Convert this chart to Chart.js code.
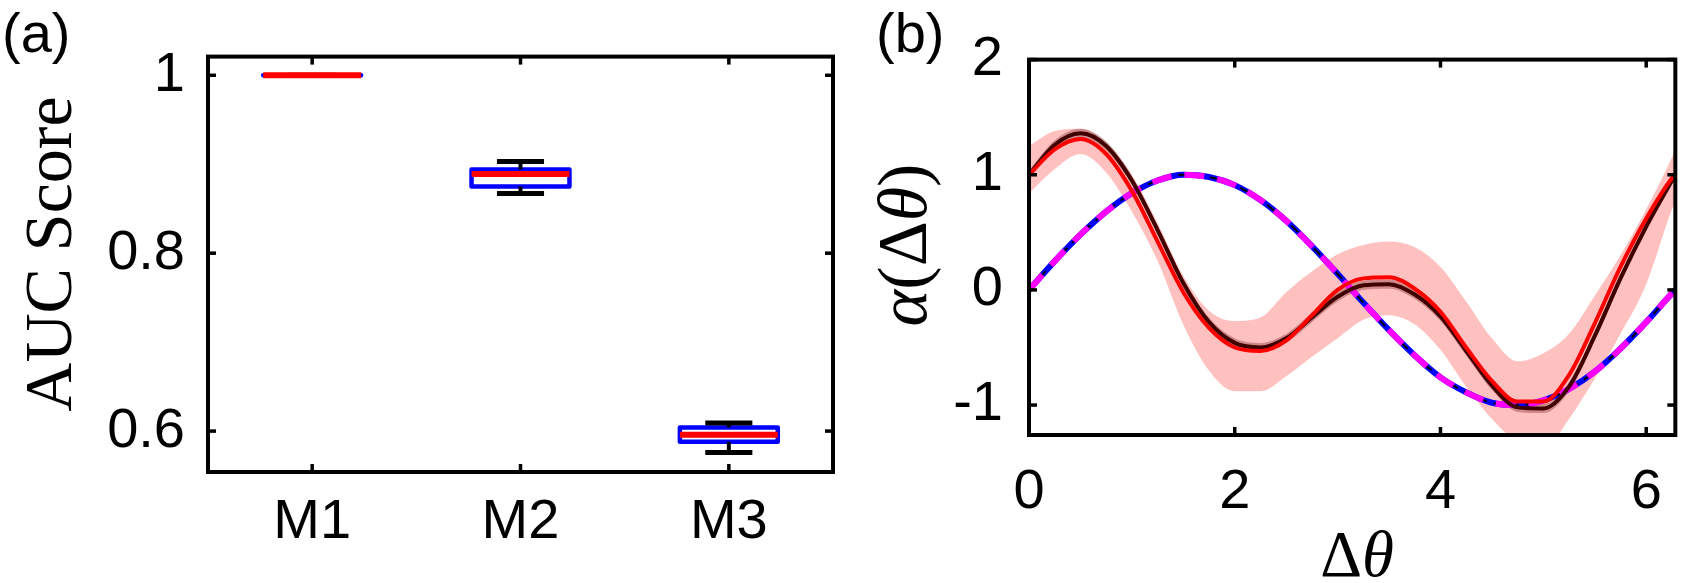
<!DOCTYPE html>
<html><head><meta charset="utf-8">
<script src="https://cdn.jsdelivr.net/npm/chart.js@4.4.0/dist/chart.umd.min.js"></script>
<style>
html,body{margin:0;padding:0;background:#fff;width:1686px;height:583px;overflow:hidden;position:relative}
canvas{position:absolute;top:0}
.lbl{position:absolute;font-family:'Liberation Sans',Arial,sans-serif;font-size:56px;line-height:1;color:#000;white-space:nowrap;z-index:5}
.serif{font-family:'Liberation Serif','Times New Roman',serif}
.rot{transform:translate(-50%,-50%) rotate(-90deg)}
</style></head><body>
<canvas id="ca" width="880" height="583" style="left:0;width:880px;height:583px"></canvas>
<canvas id="cb" width="806" height="583" style="left:880px;width:806px;height:583px"></canvas>
<div class="lbl" style="left:2px;top:5px">(a)</div>
<div class="lbl" style="left:876px;top:5px">(b)</div>
<div class="lbl serif rot" style="left:48px;top:254px;font-size:68px">AUC Score</div>
<div class="lbl serif rot" style="left:903px;top:245px;font-size:70px"><i>α</i>(Δ<i>θ</i>)</div>
<div class="lbl serif" style="left:1357px;top:522px;font-size:65px;transform:translateX(-50%)">Δ<i>θ</i></div>
<script>
// ---------- Panel (a) data: box plot of AUC scores ----------
const categories = ['M1', 'M2', 'M3'];
const whiskerHigh = [1.000, 0.903, 0.609];
const boxHigh     = [1.000, 0.894, 0.604];
const medians     = [1.000, 0.889, 0.596];
const boxLow      = [1.000, 0.875, 0.588];
const whiskerLow  = [1.000, 0.867, 0.576];
const yTicksA = [0.6, 0.8, 1];

// ---------- Panel (b) data: alpha(Δθ) curves ----------
const dTheta = [0, 0.25, 0.5, 0.75, 1, 1.25, 1.5, 1.75, 2, 2.25, 2.5, 2.75, 3, 3.25, 3.5, 3.75, 4, 4.25, 4.5, 4.75, 5, 5.25, 5.5, 5.75, 6, 6.25, 6.2832];
const trueAlpha = [0, 0.25, 0.48, 0.68, 0.84, 0.95, 1.0, 0.98, 0.91, 0.78, 0.60, 0.38, 0.14, -0.11, -0.35, -0.57, -0.76, -0.89, -0.98, -1.0, -0.96, -0.86, -0.71, -0.51, -0.28, -0.03, 0];
const redMean  = [1.00, 1.22, 1.31, 1.18, 0.86, 0.42, -0.02, -0.33, -0.50, -0.53, -0.44, -0.22, 0.00, 0.10, 0.11, 0.01, -0.19, -0.50, -0.79, -0.97, -0.97, -0.74, -0.29, 0.20, 0.62, 0.97, 1.00];
const redUpper = [1.25, 1.38, 1.40, 1.28, 1.00, 0.58, 0.12, -0.18, -0.27, -0.24, -0.02, 0.16, 0.31, 0.39, 0.42, 0.37, 0.20, -0.10, -0.42, -0.62, -0.55, -0.38, -0.05, 0.30, 0.70, 1.15, 1.22];
const redLower = [0.84, 1.05, 1.18, 1.02, 0.68, 0.25, -0.30, -0.70, -0.88, -0.88, -0.75, -0.58, -0.42, -0.26, -0.22, -0.30, -0.52, -0.84, -1.12, -1.32, -1.38, -1.12, -0.77, -0.38, 0.05, 0.70, 0.77];
const darkMean  = [1.00, 1.26, 1.36, 1.25, 0.95, 0.52, 0.06, -0.28, -0.46, -0.50, -0.42, -0.24, -0.06, 0.04, 0.05, -0.04, -0.23, -0.53, -0.83, -1.02, -1.03, -0.84, -0.40, 0.10, 0.55, 0.95, 1.00];
const darkUpper = [1.04, 1.30, 1.40, 1.29, 0.99, 0.56, 0.10, -0.24, -0.42, -0.46, -0.38, -0.20, -0.02, 0.08, 0.09, 0.00, -0.19, -0.49, -0.79, -0.98, -0.99, -0.80, -0.36, 0.14, 0.59, 0.99, 1.04];
const darkLower = [0.96, 1.22, 1.32, 1.21, 0.91, 0.48, 0.02, -0.32, -0.50, -0.54, -0.46, -0.28, -0.10, 0.00, 0.01, -0.08, -0.27, -0.57, -0.87, -1.06, -1.07, -0.88, -0.44, 0.06, 0.51, 0.91, 0.96];
const xTicksB = [0, 2, 4, 6];
const yTicksB = [-1, 0, 1, 2];

// ---------- shared helpers ----------
const tickFont = {family: "'Liberation Sans', Arial, sans-serif", size: 56};
const framePlugin = {
  id: 'frame',
  afterDatasetsDraw(chart) {
    const {ctx, chartArea: a, scales} = chart;
    ctx.save();
    ctx.strokeStyle = '#000';
    ctx.lineCap = 'butt';
    ctx.lineWidth = 3.5;
    const L = 8;
    const seg = (x1, y1, x2, y2) => { ctx.beginPath(); ctx.moveTo(x1, y1); ctx.lineTo(x2, y2); ctx.stroke(); };
    scales.x.ticks.forEach(t => {
      const p = scales.x.getPixelForValue(t.value);
      seg(p, a.bottom, p, a.bottom - L);
      seg(p, a.top, p, a.top + L);
    });
    scales.y.ticks.forEach(t => {
      const p = scales.y.getPixelForValue(t.value);
      seg(a.left, p, a.left + L, p);
      seg(a.right, p, a.right - L, p);
    });
    ctx.lineWidth = 4;
    ctx.lineJoin = 'miter';
    ctx.strokeRect(a.left, a.top, a.right - a.left, a.bottom - a.top);
    ctx.restore();
  }
};
const baseOpts = {
  responsive: false, maintainAspectRatio: false, animation: false,
  plugins: {legend: {display: false}, tooltip: {enabled: false}},
  elements: {point: {radius: 0, hoverRadius: 0}}
};

// ---------- Panel (a) chart ----------
const HW = 0.235, CW = 0.113;
function build(fn) {
  const out = [];
  categories.forEach((c, i) => { fn(i + 1, i).forEach(p => out.push(p)); out.push({x: i + 1, y: null}); });
  return out;
}
const boxData = build((x, i) => [
  {x: x - HW, y: boxLow[i]}, {x: x + HW, y: boxLow[i]}, {x: x + HW, y: boxHigh[i]},
  {x: x - HW, y: boxHigh[i]}, {x: x - HW, y: boxLow[i]}]);
const whiskerData = build((x, i) => [
  {x: x, y: boxHigh[i]}, {x: x, y: whiskerHigh[i]}, {x: x, y: null},
  {x: x, y: boxLow[i]}, {x: x, y: whiskerLow[i]}]);
const capData = build((x, i) => [
  {x: x - CW, y: whiskerHigh[i]}, {x: x + CW, y: whiskerHigh[i]}, {x: x, y: null},
  {x: x - CW, y: whiskerLow[i]}, {x: x + CW, y: whiskerLow[i]}]);
const medianData = build((x, i) => [{x: x - HW, y: medians[i]}, {x: x + HW, y: medians[i]}]);

new Chart(document.getElementById('ca'), {
  type: 'line',
  data: {datasets: [
    {data: medianData, borderColor: '#ff0000', borderWidth: 6, order: 1, spanGaps: false, fill: false},
    {data: capData, borderColor: '#000000', borderWidth: 5, order: 2, spanGaps: false, fill: false},
    {data: whiskerData, borderColor: '#000000', borderWidth: 4, order: 3, spanGaps: false, fill: false},
    {data: boxData, borderColor: '#0000ff', borderWidth: 4.5, order: 4, spanGaps: false, fill: false,
     borderJoinStyle: 'round', borderCapStyle: 'round'}
  ]},
  options: Object.assign({}, baseOpts, {
    layout: {padding: {left: 0, top: 37, right: 47, bottom: 0}},
    scales: {
      x: {type: 'linear', min: 0.5, max: 3.5,
          afterBuildTicks: s => { s.ticks = categories.map((c, i) => ({value: i + 1})); },
          afterFit: s => { s.height = 111; },
          grid: {display: false, drawTicks: false}, border: {display: false},
          ticks: {font: tickFont, color: '#000', padding: 17, maxRotation: 0, autoSkip: false,
                  callback: (v, i) => categories[i]}},
      y: {type: 'linear', min: 0.554, max: 1.021,
          afterBuildTicks: s => { s.ticks = yTicksA.map(v => ({value: v})); },
          afterFit: s => { s.width = 208; },
          grid: {display: false, drawTicks: false}, border: {display: false},
          ticks: {font: tickFont, color: '#000', padding: 23, autoSkip: false,
                  callback: v => String(v)}}
    }
  }),
  plugins: [framePlugin]
});

// ---------- Panel (b) chart ----------
const pts = arr => dTheta.map((x, i) => ({x: x, y: arr[i]}));
const curve = {pointRadius: 0, fill: false, cubicInterpolationMode: 'monotone'};
new Chart(document.getElementById('cb'), {
  type: 'line',
  data: {datasets: [
    Object.assign({data: pts(redMean), borderColor: '#ff0000', borderWidth: 4, order: 1}, curve),
    Object.assign({data: pts(darkMean), borderColor: '#400000', borderWidth: 4, order: 2}, curve),
    Object.assign({data: pts(trueAlpha), borderColor: '#ff00ff', borderWidth: 6, borderDash: [20, 13], order: 3}, curve),
    Object.assign({data: pts(trueAlpha), borderColor: '#000000', borderWidth: 2, borderDash: [9, 7], order: 4}, curve),
    Object.assign({data: pts(trueAlpha), borderColor: '#0000ff', borderWidth: 6, order: 5}, curve),
    Object.assign({}, curve, {data: pts(darkUpper), borderColor: 'rgba(0,0,0,0)', borderWidth: 1, order: 6,
      fill: {target: 6, above: 'rgba(95,10,10,0.30)', below: 'rgba(95,10,10,0.30)'}}),
    Object.assign({}, curve, {data: pts(darkLower), borderColor: 'rgba(0,0,0,0)', borderWidth: 1, order: 7}),
    Object.assign({}, curve, {data: pts(redUpper), borderColor: 'rgba(0,0,0,0)', borderWidth: 1, order: 8,
      fill: {target: 8, above: 'rgb(255,192,192)', below: 'rgb(255,192,192)'}}),
    Object.assign({}, curve, {data: pts(redLower), borderColor: 'rgba(0,0,0,0)', borderWidth: 1, order: 9})
  ]},
  options: Object.assign({}, baseOpts, {
    layout: {padding: {left: 0, top: 48, right: 5, bottom: 0}},
    scales: {
      x: {type: 'linear', min: 0, max: 6.2832,
          afterBuildTicks: s => { s.ticks = xTicksB.map(v => ({value: v})); },
          afterFit: s => { s.height = 148; },
          grid: {display: false, drawTicks: false}, border: {display: false},
          ticks: {font: tickFont, color: '#000', padding: 24, maxRotation: 0, autoSkip: false,
                  callback: v => String(v)}},
      y: {type: 'linear', min: -1.26, max: 2,
          afterBuildTicks: s => { s.ticks = yTicksB.map(v => ({value: v})); },
          afterFit: s => { s.width = 149; },
          grid: {display: false, drawTicks: false}, border: {display: false},
          ticks: {font: tickFont, color: '#000', padding: 26, autoSkip: false,
                  callback: v => String(v)}}
    }
  }),
  plugins: [framePlugin]
});
</script>
</body></html>
